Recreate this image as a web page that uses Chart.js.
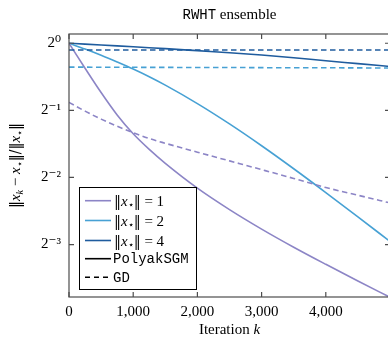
<!DOCTYPE html>
<html>
<head>
<meta charset="utf-8">
<script src="https://cdn.jsdelivr.net/npm/chart.js@4"></script>
<style>
html, body { margin: 0; padding: 0; background: #fff; overflow: hidden; }
canvas { display: block; }
</style>
</head>
<body>
<canvas id="chartRwht" width="392" height="338"></canvas>
<script>
var iterations = [0, 250, 500, 750, 1000, 1250, 1500, 2000, 2500, 3000, 3500, 4000, 4500, 5000];

// PolyakSGM (solid)
var polyakNorm1 = [1.0, 0.7725, 0.6009, 0.4767, 0.3923, 0.3339, 0.2892, 0.2238, 0.1793, 0.1466, 0.1216, 0.1019, 0.0858, 0.0725];
var polyakNorm2 = [1.0, 0.9412, 0.8827, 0.8236, 0.7658, 0.7071, 0.6484, 0.5359, 0.4345, 0.3468, 0.2735, 0.2139, 0.1664, 0.1290];
var polyakNorm4 = [1.0, 0.991, 0.982, 0.973, 0.964, 0.955, 0.946, 0.926, 0.907, 0.886, 0.861, 0.834, 0.810, 0.786];

// GD (dashed)
var gdNorm1 = [0.543, 0.4958, 0.4566, 0.4243, 0.3968, 0.3737, 0.3558, 0.3246, 0.2966, 0.2710, 0.2474, 0.2253, 0.2080, 0.1921];
var gdNorm2 = [0.781, 0.781, 0.780, 0.780, 0.780, 0.779, 0.779, 0.778, 0.778, 0.777, 0.776, 0.776, 0.775, 0.774];
var gdNorm4 = [0.933, 0.933, 0.933, 0.933, 0.933, 0.933, 0.933, 0.933, 0.933, 0.933, 0.933, 0.933, 0.933, 0.933];

var xTickValues = [0, 1000, 2000, 3000, 4000];
var xTickLabels = ['0', '1,000', '2,000', '3,000', '4,000'];
var yTickValues = [1, 0.5, 0.25, 0.125];
var yTickLabels = ['2\u2070', '2\u207B\u00B9', '2\u207B\u00B2', '2\u207B\u00B3'];

var normLabels = ['1', '2', '4'];
var styleLabels = ['PolyakSGM', 'GD'];

var SERIF = "'Liberation Serif', 'DejaVu Serif', serif";
var SYM = "'DejaVu Serif', serif";
var MONO = "'Liberation Mono', 'DejaVu Sans Mono', monospace";
var colPurple = '#8c85c6';
var colLight = '#47a1d4';
var colDark = '#1f5c9e';
var normColors = [colPurple, colLight, colDark];
var DASH = [5.5, 3.5];

function points(ys) {
    return iterations.map(function (k, i) { return { x: k, y: ys[i] }; });
}

function line(ys, color, dashed) {
    return {
        data: points(ys),
        borderColor: color,
        borderWidth: 1.6,
        borderDash: dashed ? DASH : [],
        pointRadius: 0,
        fill: false,
        cubicInterpolationMode: 'monotone'
    };
}

// draws a row of text pieces with their own fonts, centred on cx (or left aligned)
function drawRuns(ctx, runs, cx, by, alignLeft) {
    var total = 0;
    runs.forEach(function (r) { ctx.font = r.f; r.w = ctx.measureText(r.t).width; total += r.w; });
    var x = alignLeft ? cx : cx - total / 2;
    ctx.textAlign = 'left';
    ctx.textBaseline = 'alphabetic';
    runs.forEach(function (r) {
        ctx.font = r.f;
        ctx.fillText(r.t, x, by + (r.dy || 0));
        x += r.w;
    });
}

function normText(n) {
    return [
        { t: '\u2016', f: '14px ' + SYM },
        { t: 'x', f: 'italic 15px ' + SERIF },
        { t: '\u22C6', f: '10px ' + SYM, dy: 2.5 },
        { t: '\u2016', f: '14px ' + SYM },
        { t: ' = ' + n, f: '15px ' + SERIF }
    ];
}

var decorations = {
    id: 'decorations',
    afterDatasetsDraw: function (chart) {
        var ctx = chart.ctx, a = chart.chartArea;
        var xs = chart.scales.x, ys = chart.scales.y;
        ctx.save();
        // box frame with inward ticks
        ctx.strokeStyle = '#4d4d4d';
        ctx.lineWidth = 1.2;
        ctx.strokeRect(a.left, a.top, a.right - a.left, a.bottom - a.top);
        ctx.beginPath();
        xTickValues.forEach(function (v) {
            var px = xs.getPixelForValue(v);
            ctx.moveTo(px, a.bottom); ctx.lineTo(px, a.bottom - 5);
            ctx.moveTo(px, a.top); ctx.lineTo(px, a.top + 5);
        });
        yTickValues.forEach(function (v) {
            var py = ys.getPixelForValue(v);
            ctx.moveTo(a.left, py); ctx.lineTo(a.left + 5, py);
            ctx.moveTo(a.right, py); ctx.lineTo(a.right - 5, py);
        });
        ctx.stroke();

        // legend
        var lx = 79, ly = 187, lw = 117, lh = 102;
        var rowY = [200.7, 220.5, 240.5, 258.7, 277.3];
        ctx.fillStyle = '#fff';
        ctx.fillRect(lx, ly, lw, lh);
        ctx.strokeStyle = '#000';
        ctx.lineWidth = 1;
        ctx.strokeRect(lx + 0.5, ly + 0.5, lw, lh);
        ctx.lineWidth = 1.6;
        normLabels.forEach(function (n, i) {
            ctx.strokeStyle = normColors[i];
            ctx.setLineDash([]);
            ctx.beginPath(); ctx.moveTo(85, rowY[i]); ctx.lineTo(111, rowY[i]); ctx.stroke();
            ctx.fillStyle = '#000';
            drawRuns(ctx, normText(n), 114, rowY[i] + 5, true);
        });
        styleLabels.forEach(function (s, j) {
            var y = rowY[3 + j];
            ctx.strokeStyle = '#000';
            ctx.setLineDash(j === 1 ? [5, 4] : []);
            ctx.beginPath(); ctx.moveTo(85, y); ctx.lineTo(111, y); ctx.stroke();
            ctx.setLineDash([]);
            ctx.fillStyle = '#000';
            drawRuns(ctx, [{ t: s, f: '14px ' + MONO }], 113, y + 4.5, true);
        });

        // title and axis titles
        ctx.fillStyle = '#000';
        var cx = (a.left + a.right) / 2;
        drawRuns(ctx, [
            { t: 'RWHT', f: '14px ' + MONO },
            { t: ' ensemble', f: '15px ' + SERIF }
        ], cx, 19);
        drawRuns(ctx, [
            { t: 'Iteration ', f: '15px ' + SERIF },
            { t: 'k', f: 'italic 15px ' + SERIF }
        ], cx, 334);

        ctx.translate(20, (a.top + a.bottom) / 2);
        ctx.rotate(-Math.PI / 2);
        drawRuns(ctx, [
            { t: '\u2016', f: '14px ' + SYM },
            { t: 'x', f: 'italic 15px ' + SERIF },
            { t: 'k', f: 'italic 10px ' + SERIF, dy: 2.5 },
            { t: ' \u2212 ', f: '15px ' + SERIF },
            { t: 'x', f: 'italic 15px ' + SERIF },
            { t: '\u22C6', f: '10px ' + SYM, dy: 2.5 },
            { t: '\u2016/\u2016', f: '14px ' + SYM },
            { t: 'x', f: 'italic 15px ' + SERIF },
            { t: '\u22C6', f: '10px ' + SYM, dy: 2.5 },
            { t: '\u2016', f: '14px ' + SYM }
        ], 0, 0);
        ctx.restore();
    }
};

var ctx = document.getElementById('chartRwht').getContext('2d');
var chartRwht = new Chart(ctx, {
    type: 'line',
    data: {
        datasets: [
            line(gdNorm1, colPurple, true),
            line(gdNorm2, colLight, true),
            line(gdNorm4, colDark, true),
            line(polyakNorm1, colPurple, false),
            line(polyakNorm2, colLight, false),
            line(polyakNorm4, colDark, false)
        ]
    },
    options: {
        responsive: false,
        animation: false,
        devicePixelRatio: 1,
        layout: { padding: { top: 34, right: 2, left: 0, bottom: 0 } },
        scales: {
            x: {
                type: 'linear',
                min: 0,
                max: 5000,
                afterBuildTicks: function (s) { s.ticks = xTickValues.map(function (v) { return { value: v }; }); },
                afterFit: function (s) { s.height = 41; },
                grid: { display: false, drawTicks: false },
                border: { display: false },
                ticks: {
                    autoSkip: false,
                    maxRotation: 0,
                    padding: 6,
                    color: '#000',
                    font: { family: SERIF, size: 15 },
                    callback: function (v) { var i = xTickValues.indexOf(v); return i < 0 ? '' : xTickLabels[i]; }
                }
            },
            y: {
                type: 'logarithmic',
                min: 0.0727,
                max: 1.10,
                afterBuildTicks: function (s) { s.ticks = yTickValues.map(function (v) { return { value: v }; }); },
                afterFit: function (s) { s.width = 69; },
                grid: { display: false, drawTicks: false },
                border: { display: false },
                ticks: {
                    autoSkip: false,
                    padding: 8,
                    color: '#000',
                    font: { family: SERIF, size: 15 },
                    callback: function (v) { var i = yTickValues.indexOf(v); return i < 0 ? '' : yTickLabels[i]; }
                }
            }
        },
        plugins: {
            legend: { display: false },
            tooltip: { enabled: false }
        }
    },
    plugins: [decorations]
});
</script>
</body>
</html>
